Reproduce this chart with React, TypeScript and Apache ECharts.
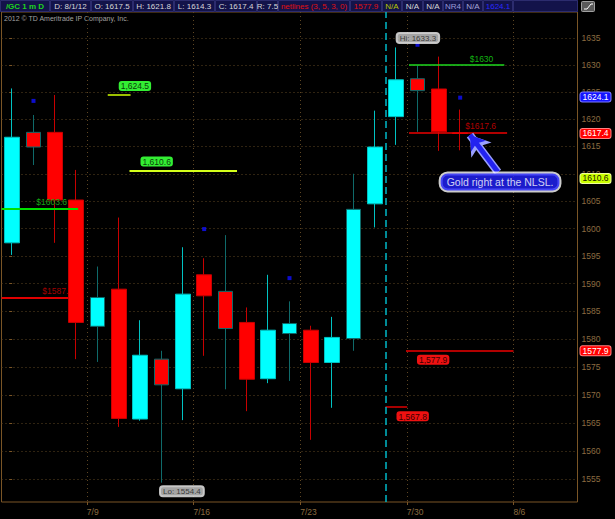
import React, { useEffect, useRef } from 'react';
import * as echarts from 'echarts';

// ---- data ----
const days = ['7/2', '7/3', '7/5', '7/6', '7/9', '7/10', '7/11', '7/12', '7/13', '7/16', '7/17', '7/18', '7/19', '7/20', '7/23', '7/24', '7/25', '7/26', '7/27', '7/30', '7/31', '8/1', '8/2', '8/3', '8/6', '8/7', '8/8'];
const opens = [1597.4, 1617.6, 1617.6, 1605.2, 1582.3, 1589.0, 1565.7, 1576.4, 1571.1, 1591.6, 1588.6, 1583.0, 1572.9, 1581.0, 1581.6, 1575.8, 1580.1, 1604.5, 1620.5, 1627.5, 1625.6, 1617.5];
const closes = [1616.7, 1614.9, 1605.2, 1583.0, 1587.5, 1565.8, 1577.1, 1571.8, 1588.1, 1587.8, 1581.9, 1572.8, 1581.6, 1582.8, 1575.8, 1580.3, 1603.5, 1614.9, 1627.3, 1625.3, 1617.7, 1617.4];
const lows = [1595.2, 1611.6, 1597.4, 1576.4, 1575.9, 1564.3, 1565.4, 1554.4, 1565.5, 1577.0, 1571.0, 1567.1, 1572.1, 1572.5, 1562.0, 1567.7, 1577.9, 1600.2, 1615.3, 1617.7, 1614.2, 1614.3];
const highs = [1625.7, 1620.8, 1624.5, 1610.7, 1593.1, 1602.0, 1583.4, 1577.9, 1596.6, 1594.6, 1598.8, 1585.7, 1591.6, 1586.8, 1582.4, 1584.0, 1610.0, 1621.6, 1633.3, 1629.9, 1631.6, 1621.8];
const mutedDays = ['7/3', '7/9', '7/12', '7/17', '7/20', '7/25', '7/30'];

const yTicks = [1555, 1560, 1565, 1570, 1575, 1580, 1585, 1590, 1595, 1600, 1605, 1610, 1615, 1620, 1625, 1630, 1635];
const weekStarts = ['7/9', '7/16', '7/23', '7/30', '8/6'];

const dotDays = ['7/3', '7/16', '7/20', '7/30', '8/1'];
const dotPrices = [1623.4, 1599.9, 1591.0, 1633.8, 1624.0];

const hiDay = '7/27';
const hiPrice = 1633.3;
const loDay = '7/12';
const loPrice = 1554.4;

// price levels drawn by the study (price, from day-index, to day-index)
const levelPrices = [1630, 1617.6, 1603.6, 1587.5, 1624.5, 1610.6, 1577.9, 1567.8];
const levelFrom = [18.6, 18.6, -0.5, -0.5, 4.48, 5.5, 18.46, 17.5];
const levelTo = [23.07, 23.2, 3.09, 3.37, 5.55, 10.54, 23.5, 18.52];

const badgePrices = [1624.1, 1617.4, 1610.6, 1577.9];
const expiryPos = 17.5;

const calloutText = 'Gold right at the NLSL.';
const calloutAt = [22.87, 1608.5];
const arrowFrom = [22.77, 1610.3];
const arrowTo = [21.46, 1617.1];

const Y_MIN = 1550.99;
const Y_MAX = 1639.9;

// ---- styles ----
const FONT = "'Liberation Sans', Arial, sans-serif";
const AXIS = '#7a5526';
const GRID = '#5e4623';
const LABEL = '#8c6c40';

const levelStyles: any[] = [
  { kind: 'text', color: '#1ed81e', text: '#12b312', width: 1.5 },
  { kind: 'text', color: '#ee0000', text: '#b00000', width: 1.5 },
  { kind: 'text', color: '#00e000', text: '#14a614', width: 2 },
  { kind: 'text', color: '#e00000', text: '#a00000', width: 2, below: true },
  { kind: 'bubbleUp', color: '#9cbf00', bg: '#33ee33', text: '#0b3d0b', width: 2 },
  { kind: 'bubbleUp', color: '#d4ff1a', bg: '#33ee33', text: '#0b3d0b', width: 2 },
  { kind: 'bubbleDown', color: '#ee0000', bg: '#ee1111', text: '#3a0000', width: 1.5 },
  { kind: 'bubbleDown', color: '#e00000', bg: '#ee1111', text: '#3a0000', width: 1.5 },
];

const badgeStyles: any[] = [
  { bg: '#1414ff', border: '#7a7aff', color: '#ffffff', dy: 0 },
  { bg: '#ff0000', border: '#ff8080', color: '#ffffff', dy: 0 },
  { bg: '#ccff00', border: '#eeff99', color: '#1a2000', dy: 8 },
  { bg: '#ff0000', border: '#ff8080', color: '#ffffff', dy: 0 },
];

const headerCells: any[] = [
  [0, 50, '/GC 1 m D', '#1ed31e', true],
  [50, 91, 'D: 8/1/12', '#d8d8d8'],
  [91, 133, 'O: 1617.5', '#d8d8d8'],
  [133, 174, 'H: 1621.8', '#d8d8d8'],
  [174, 215, 'L: 1614.3', '#d8d8d8'],
  [215, 257, 'C: 1617.4', '#d8d8d8'],
  [257, 278, 'R: 7.5', '#d8d8d8'],
  [278, 350, 'netlines (3, 5, 3, 0)', '#e01010'],
  [350, 382, '1577.9', '#e01010'],
  [382, 402, 'N/A', '#b8c800'],
  [402, 423, 'N/A', '#d8d8d8'],
  [423, 443, 'N/A', '#d8d8d8'],
  [443, 463, 'NR4', '#9a9ad8'],
  [463, 483, 'N/A', '#a8a8d8'],
  [483, 513, '1624.1', '#2a2aff'],
  [513, 578, '', '#d8d8d8'],
];

function fmtComma(v: number) {
  return v.toLocaleString('en-US', { minimumFractionDigits: 1, maximumFractionDigits: 1 });
}

function levelLine(i: number) {
  const s = levelStyles[i];
  let label: any;
  if (s.kind === 'text') {
    label = {
      show: true, position: 'insideEndTop', distance: [11, 2],
      formatter: '$' + String(levelPrices[i]), color: s.text, fontSize: 8.5, fontFamily: FONT,
    };
  } else {
    label = {
      show: true, position: s.kind === 'bubbleUp' ? 'insideStartTop' : 'insideStartBottom', distance: [11, 4],
      formatter: fmtComma(levelPrices[i]), color: s.text, fontSize: 8.5, fontFamily: FONT,
      backgroundColor: s.bg, borderRadius: 3, padding: [1, 2, 0, 2], lineHeight: 9,
    };
  }
  return [
    { coord: [levelFrom[i], levelPrices[i]], lineStyle: { color: s.color, width: s.width, type: 'solid' }, label },
    { coord: [levelTo[i], levelPrices[i]] },
  ];
}

function buildOption() {
  const weekBounds = weekStarts.map((d) => days.indexOf(d) - 0.5);

  const candleData = opens.map((o, i) => {
    const item: any = { value: [o, closes[i], lows[i], highs[i]] };
    if (mutedDays.includes(days[i])) item.itemStyle = { borderColor: '#0f6a6a', borderColor0: '#780000' };
    return item;
  });

  const above: any[] = [];
  const below: any[] = [];
  levelPrices.forEach((_, i) => (levelStyles[i].below ? below : above).push(levelLine(i)));

  const header: any[] = [{ type: 'rect', shape: { x: 0, y: 0, width: 578, height: 12 }, style: { fill: '#10103e' }, silent: true }];
  headerCells.forEach(([x0, x1, text, color, bold]) => {
    header.push({ type: 'rect', shape: { x: x0 + 0.5, y: 0.5, width: x1 - x0 - 1, height: 11 }, style: { fill: '#13134a', stroke: '#2c2c6e', lineWidth: 1 }, silent: true });
    if (text) header.push({ type: 'text', x: (x0 + x1) / 2, y: 6.5, style: { text, fill: color, font: `${bold ? 'bold ' : ''}8px ${FONT}`, align: 'center', verticalAlign: 'middle' }, silent: true });
  });
  header.push({ type: 'rect', shape: { x: 581.5, y: 1.5, width: 13, height: 10, r: 1 }, style: { fill: '#5a5a5a', stroke: '#a0a0a0', lineWidth: 1 }, silent: true });
  header.push({ type: 'polyline', shape: { points: [[584, 9], [587, 9], [591, 4], [593, 4]] }, style: { stroke: '#ffffff', lineWidth: 1, fill: null }, silent: true });
  header.push({ type: 'text', x: 4, y: 18, style: { text: '2012 \u00a9 TD Ameritrade IP Company, Inc.', fill: '#a0a0a0', font: `7px ${FONT}`, verticalAlign: 'middle' }, silent: true });

  return {
    animation: false,
    backgroundColor: '#000000',
    textStyle: { fontFamily: FONT },
    graphic: header,
    grid: { left: 1.5, right: 37.5, top: 12, bottom: 17, show: true, borderColor: AXIS, borderWidth: 1, backgroundColor: 'transparent' },
    xAxis: [
      {
        type: 'category', data: days, boundaryGap: true, position: 'bottom',
        axisLine: { show: false }, axisTick: { show: false }, axisLabel: { show: false }, splitLine: { show: false },
      },
      {
        type: 'value', min: -0.5, max: days.length - 0.5, position: 'bottom',
        axisLine: { show: false },
        axisTick: { show: true, customValues: weekBounds, length: 3, lineStyle: { color: AXIS } },
        axisLabel: {
          show: true, customValues: weekBounds, formatter: (v: number) => days[Math.round(v + 0.5)] || '',
          align: 'left', margin: 5, color: LABEL, fontSize: 8.5, fontFamily: FONT,
        },
        splitLine: { show: true, lineStyle: { color: GRID, type: [1, 3], width: 1 } },
      },
    ],
    yAxis: {
      type: 'log', logBase: 10, min: Y_MIN, max: Y_MAX, position: 'right',
      axisLine: { show: false },
      axisTick: { show: true, inside: true, length: 3, customValues: yTicks, lineStyle: { color: AXIS } },
      axisLabel: {
        show: true, customValues: yTicks, formatter: (v: number) => String(Math.round(v)),
        margin: 4, color: LABEL, fontSize: 8.5, fontFamily: FONT,
      },
      splitLine: { show: true, lineStyle: { color: GRID, type: [1, 3], width: 1 } },
    },
    series: [
      {
        name: 'levelsBelow', type: 'line', xAxisIndex: 1, yAxisIndex: 0, data: [], silent: true,
        markLine: { silent: true, z: 1, symbol: ['none', 'none'], animation: false, data: below },
      },
      {
        name: 'GC', type: 'candlestick', xAxisIndex: 0, yAxisIndex: 0, barWidth: 15, z: 2, silent: true,
        itemStyle: { color: '#00ffff', color0: '#ff0000', borderColor: '#00c2c2', borderColor0: '#c80000', borderWidth: 1 },
        data: candleData,
      },
      {
        name: 'levels', type: 'line', xAxisIndex: 1, yAxisIndex: 0, data: [], silent: true,
        markLine: {
          silent: true, z: 5, symbol: ['none', 'none'], animation: false,
          data: [
            ...above,
            { xAxis: expiryPos, lineStyle: { color: '#00b8c8', width: 1.5, type: [7, 4] }, label: { show: false } },
          ],
        },
      },
      {
        name: 'badges', type: 'line', xAxisIndex: 1, yAxisIndex: 0, data: [], silent: true,
        markLine: {
          silent: true, z: 8, symbol: ['none', 'none'], animation: false,
          data: badgePrices.map((p, i) => ({
            yAxis: p,
            lineStyle: { color: 'rgba(0,0,0,0)', width: 1, type: 'solid' },
            label: {
              show: true, position: 'end', distance: 3, formatter: p.toFixed(1),
              color: badgeStyles[i].color, backgroundColor: badgeStyles[i].bg, borderColor: badgeStyles[i].border, borderWidth: 1,
              borderRadius: 2, padding: [0, 2, 0, 2], lineHeight: 9, fontSize: 8.5, fontFamily: FONT, offset: [0, badgeStyles[i].dy],
            },
          })),
        },
      },
      {
        name: 'arrowOutline', type: 'line', xAxisIndex: 1, yAxisIndex: 0, data: [], silent: true,
        markLine: {
          silent: true, z: 6, symbol: ['none', 'arrow'], symbolSize: 19, animation: false,
          data: [[{ coord: arrowFrom, lineStyle: { color: '#9aa0ff', width: 8, type: 'solid' }, label: { show: false } }, { coord: arrowTo }]],
        },
      },
      {
        name: 'arrow', type: 'line', xAxisIndex: 1, yAxisIndex: 0, data: [], silent: true,
        markLine: {
          silent: true, z: 7, symbol: ['none', 'arrow'], symbolSize: 14, animation: false,
          data: [[{ coord: arrowFrom, lineStyle: { color: '#2323f0', width: 5, type: 'solid' }, label: { show: false } }, { coord: arrowTo }]],
        },
      },
      {
        name: 'callout', type: 'scatter', xAxisIndex: 1, yAxisIndex: 0, z: 10, silent: true,
        symbolSize: 1, itemStyle: { color: 'rgba(0,0,0,0)' },
        data: [calloutAt],
        label: {
          show: true, position: 'inside', formatter: calloutText, color: '#ffffff', fontSize: 10.5, fontFamily: FONT,
          backgroundColor: '#2323ff', borderColor: '#ffffff', borderWidth: 2, borderRadius: 7, padding: [3, 6, 3, 6],
        },
      },
      {
        name: 'dots', type: 'scatter', xAxisIndex: 0, yAxisIndex: 0, z: 4, silent: true,
        symbol: 'rect', symbolSize: 4, itemStyle: { color: '#1010ff' },
        data: dotDays.map((d, i) => [d, dotPrices[i]]),
      },
      {
        name: 'hilo', type: 'scatter', xAxisIndex: 0, yAxisIndex: 0, z: 9, silent: true,
        symbolSize: 1, itemStyle: { color: 'rgba(0,0,0,0)' },
        data: [
          {
            value: [hiDay, hiPrice],
            label: { show: true, position: [0, 0], align: 'left', verticalAlign: 'bottom', offset: [1, -4], formatter: 'Hi: ' + hiPrice.toFixed(1) },
          },
          {
            value: [loDay, loPrice],
            label: { show: true, position: [0, 0], align: 'left', verticalAlign: 'top', offset: [-1, 4], formatter: 'Lo: ' + loPrice.toFixed(1) },
          },
        ],
        label: {
          color: '#1a1a1a', fontSize: 8, fontFamily: FONT, backgroundColor: '#cdcdcd', borderColor: '#f0f0f0', borderWidth: 1,
          borderRadius: 3, padding: [1, 3, 0, 3], lineHeight: 9,
        },
      },
    ],
  };
}

export default function App() {
  const ref = useRef<HTMLDivElement>(null);
  useEffect(() => {
    if (!ref.current) return;
    const chart = echarts.init(ref.current, null, { renderer: 'svg' });
    chart.setOption(buildOption() as any);
    return () => chart.dispose();
  }, []);
  return <div ref={ref} style={{ position: 'fixed', left: 0, top: 0, width: 615, height: 519, background: '#000' }} />;
}
